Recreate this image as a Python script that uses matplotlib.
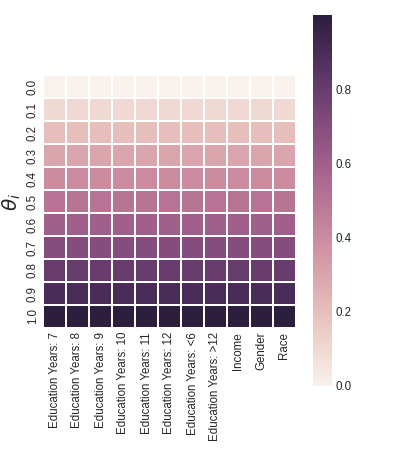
import numpy as np
import matplotlib
matplotlib.use("Agg")
import matplotlib.pyplot as plt
import seaborn as sns

sns.set_style("white")
plt.rcParams['font.family'] = ['Liberation Sans', 'DejaVu Sans']

columns = ["Education Years: 7", "Education Years: 8", "Education Years: 9",
           "Education Years: 10", "Education Years: 11", "Education Years: 12",
           "Education Years: <6", "Education Years: >12", "Income", "Gender", "Race"]
theta_labels = ["0.0", "0.1", "0.2", "0.3", "0.4", "0.5", "0.6", "0.7", "0.8", "0.9", "1.0"]
row_values = [0.0, 0.1, 0.2, 0.3, 0.4, 0.5, 0.6, 0.7, 0.8, 0.9, 1.0]
colorbar_ticks = [0.0, 0.2, 0.4, 0.6, 0.8]

values = np.tile(np.array(row_values)[:, None], (1, len(columns)))

fig = plt.figure(figsize=(399/72, 450/72), dpi=72)
ax = fig.add_axes([43/399, 1 - 328/450, 253/399, 253/450])
cax = fig.add_axes([313/399, 1 - 386/450, 19/399, 371/450])

cmap = sns.cubehelix_palette(light=0.95, as_cmap=True)
sns.heatmap(values, ax=ax, cbar_ax=cax, cmap=cmap, vmin=0, vmax=1.0,
            linewidths=1.5, linecolor="white",
            xticklabels=columns, yticklabels=theta_labels,
            cbar_kws={"ticks": colorbar_ticks})

ax.set_xticklabels(columns, rotation=90, fontsize=11.5, color="#262626")
ax.set_yticklabels(theta_labels, rotation=90, va="center", fontsize=11.5, color="#262626")
ax.tick_params(length=0, pad=4)
ax.set_ylabel(r"$\theta_i$", fontsize=20, labelpad=4)
cax.tick_params(length=0, labelsize=11.5, labelcolor="#262626", pad=4)
for s in cax.spines.values():
    s.set_visible(False)

fig.savefig("out.png", dpi=72)
